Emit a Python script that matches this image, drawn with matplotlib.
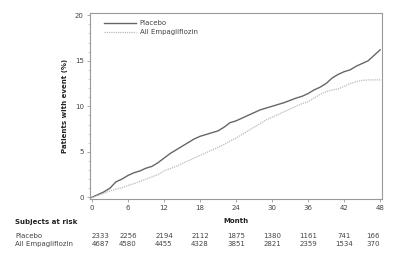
import matplotlib
matplotlib.use("Agg")
import matplotlib.pyplot as plt
from matplotlib.ticker import MultipleLocator

months = list(range(0, 49))
placebo = [0, 0.3, 0.6, 1.0, 1.7, 2.0, 2.4, 2.7, 2.9, 3.2, 3.4, 3.8, 4.3, 4.8, 5.2, 5.6,
           6.0, 6.4, 6.7, 6.9, 7.1, 7.3, 7.7, 8.2, 8.4, 8.7, 9.0, 9.3, 9.6, 9.8, 10.0,
           10.2, 10.4, 10.65, 10.9, 11.1, 11.4, 11.8, 12.1, 12.5, 13.1, 13.5, 13.8, 14.0,
           14.4, 14.7, 15.0, 15.6, 16.2]
empa = [0, 0.2, 0.45, 0.7, 0.9, 1.05, 1.3, 1.5, 1.75, 2.0, 2.25, 2.5, 2.9, 3.15, 3.4, 3.7,
        4.0, 4.3, 4.6, 4.9, 5.2, 5.5, 5.8, 6.2, 6.5, 6.9, 7.3, 7.7, 8.1, 8.5, 8.8, 9.1,
        9.4, 9.7, 10.0, 10.3, 10.5, 10.9, 11.3, 11.6, 11.8, 11.9, 12.2, 12.5, 12.7, 12.85,
        12.9, 12.9, 12.9]

risk_months = [0, 6, 12, 18, 24, 30, 36, 42, 48]
risk_placebo = [2333, 2256, 2194, 2112, 1875, 1380, 1161, 741, 166]
risk_empa = [4687, 4580, 4455, 4328, 3851, 2821, 2359, 1534, 370]
series_names = ["Placebo", "All Empagliflozin"]

fig = plt.figure(figsize=(3.95, 2.58), dpi=100)
ax = fig.add_axes([0.228, 0.228, 0.739, 0.72])

ax.plot(months, placebo, color="#666666", lw=1.0, label=series_names[0])
ax.plot(months, empa, color="#bbbbbb", lw=0.9, ls=(0, (1, 0.8)), label=series_names[1])

ax.set_xlim(-0.3, 48.3)
ax.set_ylim(-0.2, 20.2)
ax.set_xticks(risk_months)
ax.set_yticks([0, 5, 10, 15, 20])
ax.yaxis.set_minor_locator(MultipleLocator(1))
ax.tick_params(axis="both", which="major", labelsize=5, colors="#999999", labelcolor="#444444",
               length=2.5, width=0.6, pad=2)
ax.tick_params(axis="y", which="minor", length=1.2, width=0.4, colors="#aaaaaa")
for s in ax.spines.values():
    s.set_color("#999999")
    s.set_linewidth(0.8)

ax.set_ylabel("Patients with event (%)", fontsize=5, fontweight="bold", labelpad=5, color="#222222")

leg = ax.legend(loc="upper left", fontsize=5, frameon=False, handlelength=4.5,
                borderaxespad=0.6, handletextpad=0.6, labelspacing=0.4, labelcolor="#444444",
                bbox_to_anchor=(0.025, 1.0))

# risk table
fig.text(0.038, 1 - 222 / 258, "Subjects at risk", fontsize=5, fontweight="bold",
         color="#222222", va="center")
xm = fig.transFigure.inverted().transform(ax.transData.transform((24, 0)))[0]
fig.text(xm, 1 - 221 / 258, "Month", fontsize=5, fontweight="bold", color="#222222",
         va="center", ha="center")
for name, vals, yy in [(series_names[0], risk_placebo, 236), (series_names[1], risk_empa, 244)]:
    fig.text(0.038, 1 - yy / 258, name, fontsize=5, color="#444444", va="center")
    for i, (m, v) in enumerate(zip(risk_months, vals)):
        ha = "left" if i == 0 else ("right" if i == len(vals) - 1 else "center")
        xf = fig.transFigure.inverted().transform(ax.transData.transform((m, 0)))[0]
        fig.text(xf, 1 - yy / 258, str(v), fontsize=5, color="#444444", va="center", ha=ha)

fig.savefig("out.png", dpi=100)
